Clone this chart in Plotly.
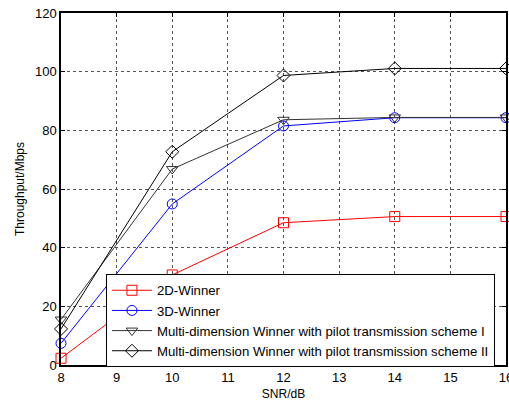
import plotly.graph_objects as go

snr = [8, 10, 12, 14, 16]
win2d = [2.3, 30.7, 48.5, 50.6, 50.6]
win3d = [7.4, 54.9, 81.5, 84.3, 84.3]
scheme1 = [15.5, 66.8, 83.6, 84.4, 84.4]
scheme2 = [12.3, 72.7, 98.7, 101.1, 101.1]
names = ["2D-Winner", "3D-Winner",
         "Multi-dimension Winner with pilot transmission scheme I",
         "Multi-dimension Winner with pilot transmission scheme II"]

series = [
    (win2d, "#ff0000", "square-open"),
    (win3d, "#0000ff", "circle-open"),
    (scheme1, "#333333", "triangle-down-open"),
    (scheme2, "#000000", "diamond-open"),
]

fig = go.Figure()
for (vals, col, sym), nm in zip(series, names):
    fig.add_trace(go.Scatter(
        x=snr, y=vals, name=nm, mode="lines+markers",
        line=dict(color=col, width=1),
        marker=dict(symbol=sym, size=10, color=col, line=dict(width=1, color=col)),
        cliponaxis=False,
    ))

axis_common = dict(
    showline=True, linecolor="black", linewidth=1.5, mirror="ticks",
    ticks="inside", ticklen=4, tickcolor="black",
    showgrid=True, gridcolor="#555555", griddash="dot", gridwidth=1,
    zeroline=False, tickfont=dict(size=13, color="black"), automargin=False,
    ticklabeloverflow="allow",
)

fig.update_xaxes(range=[8, 16], dtick=1, tick0=8,
                 title=dict(text="SNR/dB", font=dict(size=12, color="black"), standoff=5),
                 **axis_common)
fig.update_yaxes(range=[0, 120], dtick=20,
                 title=dict(text="Throughput/Mbps", font=dict(size=12, color="black"), standoff=8),
                 **axis_common)

fig.update_layout(
    width=509, height=402,
    margin=dict(l=61, r=3, t=13, b=37),
    plot_bgcolor="white", paper_bgcolor="white",
    font=dict(family="Liberation Sans, Arial, sans-serif", size=12, color="black"),
    legend=dict(x=0.101, y=0.258, xanchor="left", yanchor="top",
                bgcolor="white", bordercolor="black", borderwidth=1,
                font=dict(size=13.2), tracegroupgap=0, itemwidth=40),
    showlegend=True,
)

fig.write_html("out.html", config={"displayModeBar": False},
               post_script="document.body.style.margin='0';")
